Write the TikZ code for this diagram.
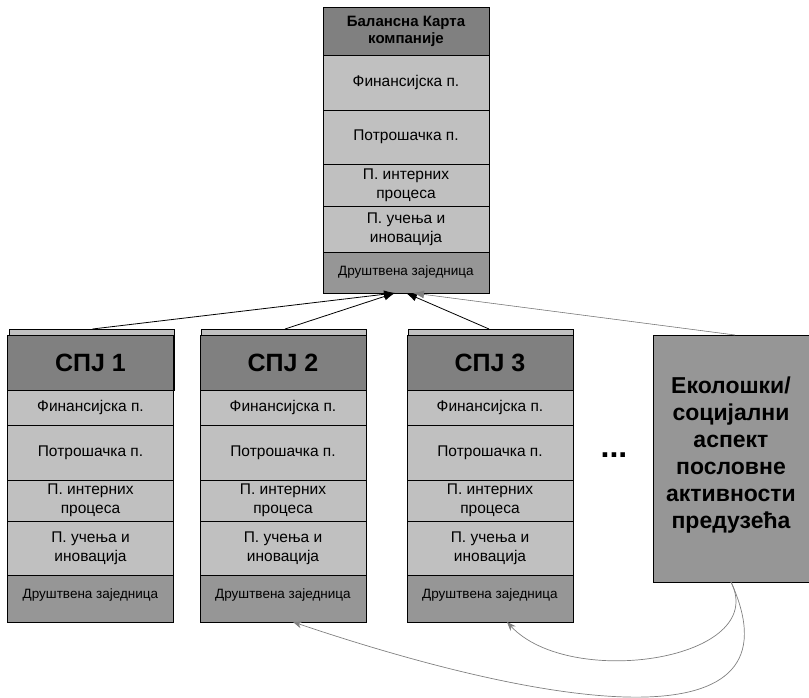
\documentclass[tikz,border=0pt]{standalone}
\usepackage{fontspec}
\setmainfont{Liberation Sans}
\usetikzlibrary{arrows.meta}
\definecolor{headgray}{HTML}{808080}
\definecolor{rowgray}{HTML}{C0C0C0}
\definecolor{socgray}{HTML}{969696}

\begin{document}
\begin{tikzpicture}[x=1pt, y=-1pt,
    every node/.style={inner sep=0pt, outer sep=0pt, align=center},
    headbox/.style={draw, line width=0.9pt, fill=headgray, minimum width=166pt, font=\bfseries\fontsize{25}{28}\selectfont},
    backbox/.style={draw, line width=0.6pt, fill=rowgray, minimum width=165pt},
    rowbox/.style={draw, line width=0.6pt, fill=rowgray, minimum width=166pt, font=\fontsize{15.5}{19}\selectfont},
    socbox/.style={draw, line width=0.9pt, fill=socgray, minimum width=166pt, font=\fontsize{13.5}{15}\selectfont},
    ecobox/.style={draw, line width=0.9pt, fill=socgray, minimum width=156pt, minimum height=247pt, font=\bfseries\fontsize{23}{27}\selectfont},
    upline/.style={-{Latex[length=11pt,width=8pt]}, line width=0.8pt},
    backline/.style={-{Stealth[length=9pt,width=7pt]}, draw=headgray, line width=0.7pt}]
    \useasboundingbox (0,0) rectangle (809,698);
    % balanced scorecard of the company
    \node[headbox, minimum height=48pt, font=\bfseries\fontsize{15}{17}\selectfont] (t1) at (406, 31) {Балансна Карта\\компаније};
    \node[rowbox, minimum height=55pt] (t2) at (406, 82.5) {Финансијска п.};
    \node[rowbox, minimum height=54pt] (t3) at (406, 137) {Потрошачка п.};
    \node[rowbox, minimum height=42pt] (t4) at (406, 185) {П. интерних\\процеса};
    \node[rowbox, minimum height=46pt] (t5) at (406, 229) {П. учења и\\иновација};
    \node[socbox, minimum height=41pt] (t6) at (406, 272.5) {Друштвена заједница};
    % SPJ 1
    \node[backbox, minimum height=61pt] (a0) at (91.5, 359.5) {};
    \node[headbox, minimum height=55pt] (a1) at (90.5, 362.5) {СПЈ 1};
    \node[rowbox, minimum height=35pt] (a2) at (90.5, 407.5) {Финансијска п.};
    \node[rowbox, minimum height=55pt] (a3) at (90.5, 452.5) {Потрошачка п.};
    \node[rowbox, minimum height=41pt] (a4) at (90.5, 500.5) {П. интерних\\процеса};
    \node[rowbox, minimum height=54pt] (a5) at (90.5, 548) {П. учења и\\иновација};
    \node[socbox, minimum height=47pt, text depth=9pt] (a6) at (90.5, 598.5) {Друштвена заједница};
    % SPJ 2
    \node[backbox, minimum height=61pt] (b0) at (284, 359.5) {};
    \node[headbox, minimum height=55pt] (b1) at (283, 362.5) {СПЈ 2};
    \node[rowbox, minimum height=35pt] (b2) at (283, 407.5) {Финансијска п.};
    \node[rowbox, minimum height=55pt] (b3) at (283, 452.5) {Потрошачка п.};
    \node[rowbox, minimum height=41pt] (b4) at (283, 500.5) {П. интерних\\процеса};
    \node[rowbox, minimum height=54pt] (b5) at (283, 548) {П. учења и\\иновација};
    \node[socbox, minimum height=47pt, text depth=9pt] (b6) at (283, 598.5) {Друштвена заједница};
    % SPJ 3
    \node[backbox, minimum height=61pt] (c0) at (491, 359.5) {};
    \node[headbox, minimum height=55pt] (c1) at (490, 362.5) {СПЈ 3};
    \node[rowbox, minimum height=35pt] (c2) at (490, 407.5) {Финансијска п.};
    \node[rowbox, minimum height=55pt] (c3) at (490, 452.5) {Потрошачка п.};
    \node[rowbox, minimum height=41pt] (c4) at (490, 500.5) {П. интерних\\процеса};
    \node[rowbox, minimum height=54pt] (c5) at (490, 548) {П. учења и\\иновација};
    \node[socbox, minimum height=47pt, text depth=9pt] (c6) at (490, 598.5) {Друштвена заједница};
    % ecological / social aspect
    \node (d) at (614, 455) {\bfseries\fontsize{32}{34}\selectfont ...};
    \node[ecobox, text depth=12pt] (e) at (731, 458.5) {Еколошки/\\социјални\\аспект\\пословне\\активности\\предузећа};
    \draw [upline] ([xshift=1pt]a0.north) -- ([xshift=-11pt]t6.south);
    \draw [upline] ([xshift=1pt]b0.north) -- ([xshift=-11pt]t6.south);
    \draw [upline] ([xshift=-2pt]c0.north) -- ([xshift=0pt]t6.south);
    \draw [upline, draw=headgray, fill=headgray, line width=0.6pt] ([xshift=4pt]e.north) -- ([xshift=7pt]t6.south);
    \draw [backline] (e.south) .. controls (770, 660) and (570, 690) .. ([xshift=17pt]c6.south);
    \draw [backline] (e.south) .. controls (805, 745) and (560, 712) .. ([xshift=10pt]b6.south);
\end{tikzpicture}
\end{document}
